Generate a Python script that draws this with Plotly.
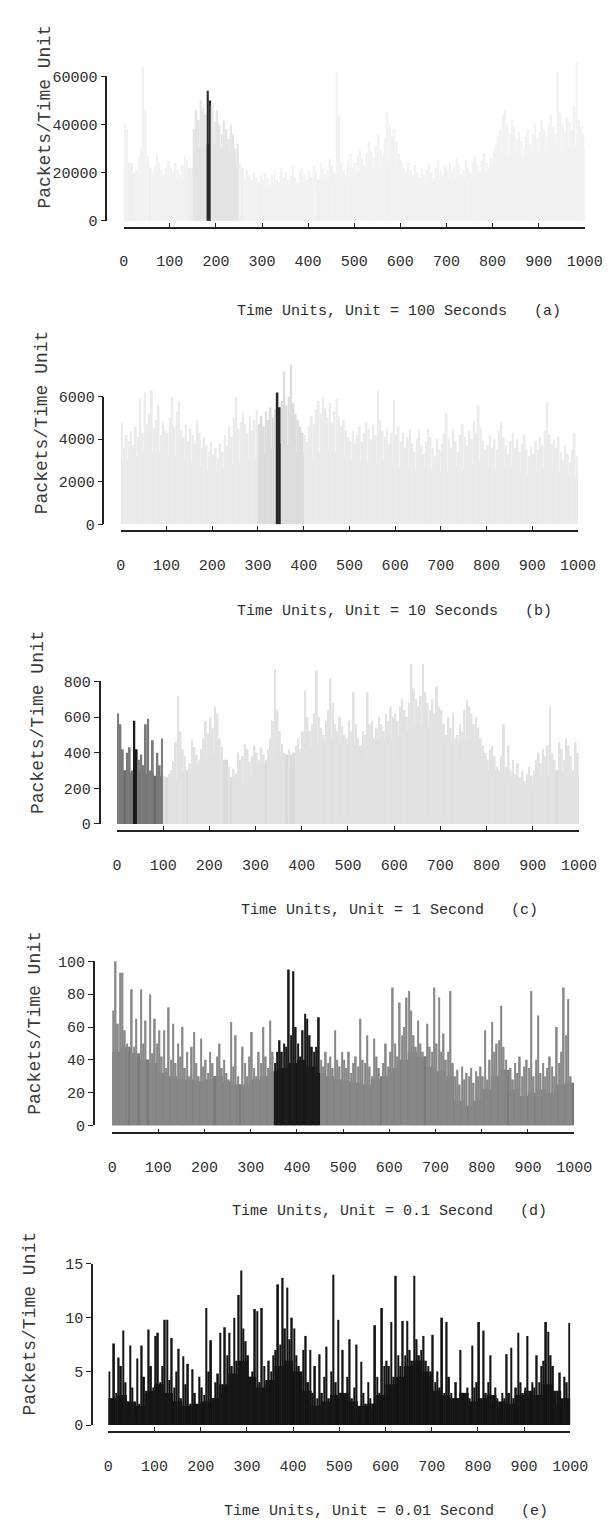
import plotly.graph_objects as go

W, H = 614, 1527
FONT = "Liberation Mono, Courier New, monospace"
TXT = "#2e2e2e"

# time-unit bins (5 units per peak bar, 20 units per base level)
UNITS = list(range(0, 1000, 5))
X_TICKS = [0, 100, 200, 300, 400, 500, 600, 700, 800, 900, 1000]
X_TICK_TEXT = ["0", "100", "200", "300", "400", "500", "600", "700", "800", "900", "1000"]

# ---------------- panel (a): unit = 100 s ----------------
PEAK_A = [41000, 38000, 24000, 22000, 19000, 21000, 26000, 30000, 64000, 46000, 27000, 22000, 20000, 23000, 28000, 24000, 21000, 19000, 22000, 25000,
          22000, 20000, 24000, 21000, 19000, 23000, 27000, 25000, 22000, 20000, 38000, 46000, 42000, 50000, 47000, 44000, 54000, 50000, 48000, 41000,
          46000, 40000, 36000, 42000, 38000, 34000, 40000, 36000, 30000, 32000, 24000, 20000, 18000, 21000, 19000, 17000, 20000, 18000, 16000, 19000,
          17000, 20000, 18000, 15000, 19000, 21000, 17000, 16000, 22000, 18000, 20000, 17000, 19000, 23000, 18000, 16000, 20000, 22000, 19000, 17000,
          21000, 18000, 23000, 20000, 17000, 24000, 22000, 19000, 21000, 26000, 23000, 20000, 62000, 44000, 24000, 21000, 19000, 25000, 28000, 22000,
          24000, 27000, 30000, 26000, 23000, 28000, 33000, 29000, 26000, 31000, 36000, 30000, 27000, 34000, 45000, 40000, 35000, 38000, 33000, 28000,
          25000, 22000, 20000, 24000, 21000, 19000, 23000, 20000, 18000, 22000, 19000, 21000, 24000, 20000, 18000, 22000, 25000, 21000, 19000, 23000,
          21000, 24000, 20000, 22000, 26000, 23000, 19000, 21000, 25000, 22000, 20000, 24000, 27000, 23000, 21000, 25000, 28000, 24000, 22000, 26000,
          29000, 32000, 35000, 38000, 44000, 46000, 40000, 36000, 42000, 39000, 34000, 37000, 33000, 30000, 35000, 38000, 32000, 36000, 40000, 34000,
          37000, 42000, 38000, 35000, 40000, 44000, 39000, 36000, 62000, 45000, 40000, 37000, 43000, 41000, 38000, 48000, 66000, 42000, 39000, 36000]
BASE_A = [24000, 20000, 22000, 19000, 18000, 17000, 18000, 22000, 30000, 32000,
          30000, 28000, 22000, 16000, 15000, 14000, 15000, 14000, 15000, 16000,
          15000, 17000, 16000, 18000, 18000, 20000, 21000, 22000, 25000, 23000,
          18000, 16000, 15000, 16000, 17000, 17000, 18000, 17000, 19000, 20000,
          23000, 27000, 28000, 26000, 27000, 28000, 30000, 29000, 31000, 30000]

# ---------------- panel (b): unit = 10 s ----------------
PEAK_B = [4800, 3600, 4200, 3900, 4400, 3700, 4600, 4100, 5900, 4300, 6200, 4700, 5200, 6300, 4500, 4900, 5600, 4200, 4800, 4400,
          4300, 5000, 6000, 4600, 5300, 5800, 4400, 4100, 4700, 3900, 4500, 4200, 3800, 4900, 4300, 3600, 4100, 3700, 3400, 3900,
          3300, 3600, 3100, 3800, 3400, 4200, 3700, 4600, 4100, 5000, 6000, 4500, 4800, 5300, 4700, 4300, 5100, 4400, 4900, 5400,
          4700, 5100, 4600, 5300, 4900, 5500, 5000, 5400, 6200, 5500, 5800, 7200, 5600, 6000, 7500, 5700, 5200, 4900, 4600, 4300,
          4200, 3900, 4600, 5100, 4700, 5400, 5800, 5200, 6000, 5500, 5000, 5700, 4800, 5300, 5900, 5100, 4600, 4900, 4400, 4100,
          3900, 4400, 3800, 4200, 4600, 3900, 4300, 4800, 4500, 4000, 4700, 4200, 6300, 4900, 4400, 4100, 4500, 3800, 4300, 5800,
          4200, 4600, 3900, 4300, 3600, 4100, 4500, 3800, 3400, 4000, 4400, 3700, 3300, 3900, 4500, 4100, 3600, 3200, 4000, 3500,
          3800, 4300, 5200, 4000, 3600, 4500, 3900, 3400, 4200, 4700, 4100, 3700, 4400, 4000, 4800, 4300, 5600, 4500, 3900, 3500,
          3700, 4200, 3600, 4000, 3500, 4400, 4800, 4100, 3700, 3300, 3900, 4300, 3600, 4000, 3400, 3800, 4200, 3500, 3200, 3700,
          3300, 3900, 3500, 4100, 3700, 4400, 5700, 4200, 3800, 4000, 3600, 4100, 3400, 3000, 3700, 3300, 2900, 3500, 4300, 3200]
BASE_B = [3000, 3200, 3500, 3300, 3400, 3200, 3000, 2900, 2700, 2500,
          2400, 2600, 2800, 3000, 3100, 3300, 3600, 3800, 3700, 3400,
          3000, 3300, 3500, 3400, 3200, 3000, 2900, 2800, 3000, 2900,
          2700, 2600, 2500, 2600, 2400, 2500, 2700, 2600, 2800, 2900,
          2600, 2500, 2700, 2400, 2300, 2400, 2600, 2500, 2300, 2200]

# ---------------- panel (c): unit = 1 s ----------------
PEAK_C = [620, 560, 420, 300, 400, 430, 300, 580, 420, 360, 390, 330, 560, 590, 300, 470, 240, 400, 330, 480,
          270, 260, 280, 300, 350, 460, 720, 520, 420, 380, 300, 340, 470, 430, 390, 360, 420, 480, 580, 510,
          600, 540, 660, 620, 480, 430, 350, 280, 320, 260, 310, 280, 400, 360, 380, 450, 420, 350, 380, 440,
          400, 360, 430, 390, 350, 420, 480, 580, 870, 640, 520, 450, 400, 360, 420, 380, 330, 440, 480, 420,
          520, 750, 600, 520, 560, 620, 860, 600, 540, 500, 580, 640, 820, 680, 560, 520, 600, 550, 500, 480,
          580, 520, 740, 560, 480, 440, 520, 500, 740, 560, 580, 480, 540, 600, 560, 520, 620, 580, 660, 600,
          620, 580, 660, 700, 640, 600, 680, 900, 760, 700, 660, 720, 900, 740, 680, 640, 700, 620, 770, 660,
          640, 560, 500, 600, 540, 620, 480, 500, 560, 520, 640, 700, 660, 620, 560, 600, 540, 480, 440, 400,
          360, 420, 440, 380, 320, 300, 380, 560, 320, 440, 300, 360, 280, 340, 260, 300, 240, 280, 320, 270,
          300, 360, 400, 340, 420, 380, 440, 660, 400, 360, 300, 460, 420, 360, 480, 440, 380, 300, 460, 400]
BASE_C = [300, 290, 290, 280, 270, 260, 250, 300, 330, 350,
          380, 360, 260, 220, 280, 330, 360, 380, 390, 400,
          420, 440, 460, 480, 450, 440, 430, 450, 470, 480,
          500, 520, 550, 540, 520, 480, 460, 470, 430, 380,
          300, 280, 260, 240, 220, 240, 270, 300, 290, 270]

# ---------------- panel (d): unit = 0.1 s ----------------
PEAK_D = [70, 100, 62, 93, 93, 58, 50, 45, 83, 48, 65, 42, 83, 50, 64, 40, 80, 44, 65, 50,
          58, 42, 58, 35, 72, 40, 62, 38, 50, 42, 60, 35, 45, 30, 48, 57, 38, 30, 53, 36,
          40, 32, 45, 38, 30, 42, 50, 35, 40, 32, 28, 63, 36, 55, 30, 25, 48, 38, 30, 42,
          57, 35, 30, 45, 38, 60, 42, 35, 64, 45, 38, 45, 52, 45, 50, 48, 95, 55, 94, 60,
          50, 42, 58, 68, 65, 55, 48, 45, 48, 66, 40, 36, 45, 38, 42, 35, 58, 40, 36, 45,
          40, 35, 45, 32, 38, 42, 36, 65, 40, 38, 55, 36, 30, 53, 42, 35, 28, 38, 50, 36,
          45, 84, 50, 42, 75, 55, 60, 78, 82, 70, 55, 48, 64, 50, 45, 42, 62, 48, 45, 84,
          50, 78, 45, 56, 40, 45, 82, 38, 30, 34, 25, 36, 28, 32, 30, 35, 26, 33, 30, 36,
          30, 58, 28, 40, 63, 45, 50, 52, 73, 48, 40, 30, 35, 28, 38, 32, 42, 30, 36, 40,
          35, 82, 30, 40, 67, 32, 38, 30, 35, 42, 36, 30, 60, 38, 45, 84, 55, 77, 30, 25]
BASE_D = [45, 48, 44, 40, 38, 32, 30, 28, 28, 27,
          28, 30, 27, 25, 25, 28, 30, 33, 35, 38,
          40, 36, 32, 30, 28, 27, 26, 25, 28, 30,
          35, 40, 45, 42, 36, 33, 30, 15, 12, 15,
          22, 30, 34, 22, 18, 20, 22, 20, 25, 26]

# ---------------- panel (e): unit = 0.01 s ----------------
PEAK_E = [5.0, 2.5, 7.6, 3.0, 6.3, 5.5, 8.8, 4.0, 2.2, 7.4, 3.5, 1.5, 6.2, 2.0, 7.4, 4.5, 3.0, 8.9, 5.5, 3.5,
          8.3, 8.6, 4.0, 5.5, 9.8, 9.8, 4.2, 8.1, 3.5, 5.0, 7.1, 2.5, 6.4, 3.8, 5.7, 2.0, 5.2, 3.0, 1.8, 4.5,
          3.5, 2.8, 10.9, 5.0, 7.9, 2.5, 4.0, 4.8, 8.6, 3.0, 9.1, 6.5, 8.6, 5.5, 10.0, 6.0, 12.1, 14.4, 9.0, 7.8,
          6.5, 4.5, 5.0, 10.8, 10.6, 4.0, 10.9, 5.5, 3.8, 6.0, 5.0, 6.5, 7.0, 13.1, 7.5, 13.7, 9.0, 12.8, 8.0, 10.0,
          9.0, 6.5, 5.5, 4.5, 7.0, 8.3, 4.0, 7.0, 3.0, 5.5, 2.5, 6.6, 3.0, 4.5, 7.3, 2.5, 5.0, 14.0, 4.0, 9.8,
          3.0, 7.0, 2.0, 4.5, 8.0, 2.5, 3.5, 7.5, 1.5, 5.9, 3.0, 2.0, 4.0, 2.5, 1.5, 9.3, 4.5, 3.0, 10.9, 5.5,
          6.0, 5.5, 9.6, 4.5, 13.9, 6.5, 5.5, 9.7, 6.5, 9.7, 7.0, 6.0, 13.9, 8.0, 6.5, 7.0, 8.3, 6.0, 5.5, 4.5,
          8.4, 4.0, 5.0, 3.5, 10.0, 3.0, 9.6, 4.5, 3.0, 2.5, 4.0, 2.5, 7.0, 3.0, 2.0, 3.5, 2.5, 7.4, 3.5, 4.0,
          9.6, 2.5, 8.8, 3.0, 4.0, 6.5, 2.0, 3.5, 2.5, 1.5, 3.0, 2.5, 6.6, 3.0, 7.2, 2.5, 3.5, 8.6, 4.0, 3.0,
          3.5, 8.3, 2.5, 4.0, 3.5, 6.5, 4.0, 5.5, 6.0, 9.6, 8.7, 6.5, 5.5, 3.0, 2.0, 4.9, 1.5, 4.5, 4.0, 9.5]
BASE_E = [2.5, 2.8, 2.2, 1.8, 3.2, 3.8, 3.0, 2.2, 1.8, 2.0,
          2.2, 2.5, 3.8, 4.8, 6.0, 4.5, 3.5, 4.2, 5.5, 6.0,
          5.0, 3.2, 1.8, 2.2, 2.8, 3.0, 2.2, 1.8, 2.0, 2.8,
          3.8, 4.5, 5.5, 6.0, 5.0, 3.2, 2.8, 2.5, 3.0, 2.2,
          2.5, 2.8, 2.2, 2.0, 2.8, 3.2, 2.8, 3.8, 3.2, 2.5]

Y_TICKS = {
    "a": ([0, 20000, 40000, 60000], ["0", "20000", "40000", "60000"]),
    "b": ([0, 2000, 4000, 6000], ["0", "2000", "4000", "6000"]),
    "c": ([0, 200, 400, 600, 800], ["0", "200", "400", "600", "800"]),
    "d": ([0, 20, 40, 60, 80, 100], ["0", "20", "40", "60", "80", "100"]),
    "e": ([0, 5, 10, 15], ["0", "5", "10", "15"]),
}
TITLES = {
    "a": "Time Units, Unit = 100 Seconds   (a)",
    "b": "Time Units, Unit = 10 Seconds   (b)",
    "c": "Time Units, Unit = 1 Second   (c)",
    "d": "Time Units, Unit = 0.1 Second   (d)",
    "e": "Time Units, Unit = 0.01 Second   (e)",
}
Y_TITLE = "Packets/Time Unit"

# highlighted sub-intervals (time units) and their shades (base, peak)
REGIONS = {
    "a": [((180, 190), "#2a2a2a", "#2a2a2a"), ((150, 250), "#dcdcdc", "#e4e4e4")],
    "b": [((340, 350), "#1e1e1e", "#2a2a2a"), ((300, 400), "#d2d2d2", "#dcdcdc")],
    "c": [((35, 45), "#111111", "#1a1a1a"), ((0, 100), "#6a6a6a", "#7a7a7a")],
    "d": [((350, 450), "#121212", "#1a1a1a")],
    "e": [],
}
NORMAL = {"a": ("#eeeeee", "#f2f2f2"), "b": ("#e4e4e4", "#ebebeb"),
          "c": ("#dadada", "#e2e2e2"), "d": ("#7a7a7a", "#888888"),
          "e": ("#141414", "#141414")}

# pixel layout of each panel
PANELS = [
    dict(k="a", peak=PEAK_A, base=BASE_A, x0=115, x1=594, y0=208, yt=62, ytop=30, ylx=97, xay=215, yti=(33, 103), ti=(231, 300), pw=4.2),
    dict(k="b", peak=PEAK_B, base=BASE_B, x0=112, x1=587, y0=515, yt=386, ytop=340, ylx=94, xay=522, yti=(31, 412), ti=(231, 603), pw=4.2),
    dict(k="c", peak=PEAK_C, base=BASE_C, x0=108, x1=588, y0=818, yt=674, ytop=640, ylx=90, xay=825, yti=(26, 715), ti=(235, 906), pw=4.2),
    dict(k="d", peak=PEAK_D, base=BASE_D, x0=103, x1=583, y0=1123, yt=957, ytop=950, ylx=84, xay=1131, yti=(22, 1019), ti=(225, 1210), pw=3.6),
    dict(k="e", peak=PEAK_E, base=BASE_E, x0=99, x1=579, y0=1426, yt=1263, ytop=1250, ylx=82, xay=1433, yti=(18, 1323), ti=(217, 1513), pw=3.6),
]


def shade(key, u, which):
    for (lo, hi), cb, cp in REGIONS[key]:
        if lo <= u < hi:
            return cb if which == 0 else cp
    return NORMAL[key][which]


def fy(py):
    return 1 - py / H


def fx(px):
    return px / W


fig = go.Figure()
layout = dict(width=W, height=H, margin=dict(l=0, r=0, t=0, b=0),
              paper_bgcolor="white", plot_bgcolor="rgba(0,0,0,0)",
              barmode="overlay", showlegend=False, annotations=[],
              font=dict(family=FONT, color=TXT, size=15))

for i, p in enumerate(PANELS, start=1):
    k = p["k"]
    xa, ya, yd = f"x{i}", f"y{i}", f"y{i + 5}"
    tv, tt = Y_TICKS[k]
    top_val = tv[-1]
    vmax = top_val * (p["y0"] - p["ytop"]) / (p["y0"] - p["yt"])
    base_vals = [p["base"][u // 20] for u in UNITS]

    fig.add_trace(go.Bar(x=UNITS, y=base_vals, width=5.4, offset=-0.2,
                         marker=dict(color=[shade(k, u, 0) for u in UNITS], line=dict(width=0)),
                         xaxis=xa, yaxis=ya, hoverinfo="skip"))
    fig.add_trace(go.Bar(x=UNITS, y=p["peak"], width=p["pw"], offset=(5 - p["pw"]) / 2,
                         marker=dict(color=[shade(k, u, 1) if p["peak"][j] > base_vals[j] else shade(k, u, 0)
                                            for j, u in enumerate(UNITS)], line=dict(width=0)),
                         xaxis=xa, yaxis=ya, hoverinfo="skip"))
    # carrier trace for the displayed value axis
    fig.add_trace(go.Scatter(x=[None], y=[None], xaxis=xa, yaxis=yd, hoverinfo="skip"))

    layout[f"xaxis{i}"] = dict(domain=[fx(p["x0"]), fx(p["x1"])], range=[0, 1000],
                               anchor="free", position=fy(p["xay"]),
                               showline=True, linecolor="#222", linewidth=1.5,
                               ticks="inside", ticklen=4, tickwidth=1.2, tickcolor="#222",
                               tickvals=X_TICKS, ticktext=X_TICK_TEXT, ticklabelstandoff=20,
                               tickfont=dict(family=FONT, size=15, color=TXT),
                               showgrid=False, zeroline=False, fixedrange=True)
    layout[f"yaxis{i}"] = dict(domain=[fy(p["y0"]), fy(p["ytop"])], range=[0, vmax],
                               visible=False, anchor=xa, fixedrange=True)
    layout[f"yaxis{i + 5}"] = dict(domain=[fy(p["y0"]), fy(p["yt"])], range=[0, top_val],
                                   anchor="free", position=fx(p["ylx"]),
                                   showline=True, linecolor="#222", linewidth=1.5,
                                   ticks="outside", ticklen=5, tickwidth=1.2, tickcolor="#222",
                                   tickvals=tv, ticktext=tt,
                                   tickfont=dict(family=FONT, size=15, color=TXT),
                                   showgrid=False, zeroline=False, fixedrange=True)
    layout["annotations"].append(dict(text=Y_TITLE, textangle=-90, xref="paper", yref="paper",
                                      x=fx(p["yti"][0]), y=fy(p["yti"][1]), xanchor="center", yanchor="middle",
                                      showarrow=False, font=dict(family=FONT, size=18, color="#3a3a3a")))
    layout["annotations"].append(dict(text=TITLES[k].replace(" ", "&nbsp;"), xref="paper", yref="paper",
                                      x=fx(p["ti"][0]), y=fy(p["ti"][1]), xanchor="left", yanchor="middle",
                                      showarrow=False, font=dict(family=FONT, size=15, color=TXT)))

fig.update_layout(**layout)
fig.write_html("out.html")
